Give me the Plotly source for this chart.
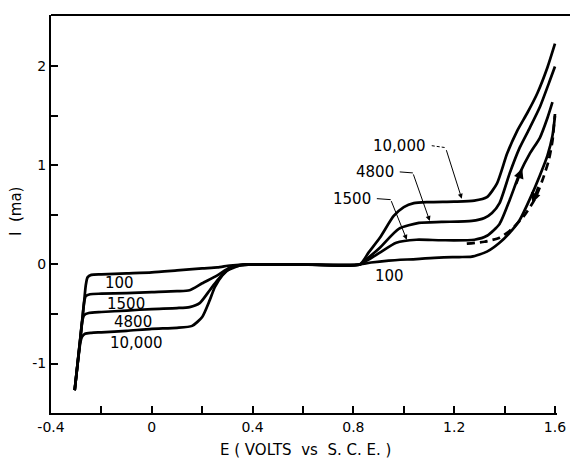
import plotly.graph_objects as go

# ---- data ----
E_100 = [-0.306, -0.269, -0.262, -0.255, -0.24, -0.2, -0.1, 0.0, 0.1, 0.2, 0.26, 0.31, 0.36, 0.43, 0.6,
         0.825, 0.87, 0.94, 1.05, 1.14, 1.22, 1.27, 1.33, 1.38, 1.42, 1.46, 1.50, 1.54, 1.57, 1.59, 1.60]
I_100 = [-1.27, -0.39, -0.21, -0.13, -0.105, -0.10, -0.09, -0.08, -0.06, -0.04, -0.03, -0.01, 0.0, 0.0, 0.0,
         0.0, 0.02, 0.04, 0.055, 0.07, 0.075, 0.08, 0.13, 0.22, 0.32, 0.45, 0.66, 0.90, 1.10, 1.30, 1.50]

E_1500 = [-0.306, -0.276, -0.269, -0.262, -0.245, -0.2, -0.1, 0.0, 0.1, 0.15, 0.2, 0.26, 0.31, 0.36, 0.4, 0.6,
          0.825, 0.86, 0.905, 0.97, 1.05, 1.15, 1.28, 1.33, 1.38, 1.42, 1.46, 1.50, 1.54, 1.57, 1.59]
I_1500 = [-1.27, -0.57, -0.39, -0.32, -0.30, -0.295, -0.29, -0.28, -0.27, -0.26, -0.19, -0.11, -0.03, 0.0, 0.0, 0.0,
          0.0, 0.05, 0.12, 0.22, 0.25, 0.245, 0.25, 0.29, 0.41, 0.65, 0.92, 1.12, 1.28, 1.48, 1.64]

E_4800 = [-0.306, -0.283, -0.276, -0.268, -0.25, -0.2, -0.1, 0.0, 0.1, 0.15, 0.19, 0.23, 0.26, 0.30, 0.35, 0.4, 0.6,
          0.825, 0.86, 0.905, 0.98, 1.06, 1.15, 1.27, 1.32, 1.35, 1.38, 1.42, 1.46, 1.50, 1.54, 1.58, 1.60]
I_4800 = [-1.27, -0.74, -0.57, -0.51, -0.49, -0.48, -0.465, -0.45, -0.44, -0.43, -0.39, -0.26, -0.16, -0.06, -0.01, 0.0, 0.0,
          0.0, 0.07, 0.17, 0.36, 0.42, 0.43, 0.44, 0.47, 0.52, 0.62, 0.92, 1.18, 1.38, 1.59, 1.86, 2.0]

E_10000 = [-0.306, -0.283, -0.277, -0.265, -0.24, -0.2, -0.1, 0.0, 0.1, 0.16, 0.2, 0.23, 0.25, 0.28, 0.31, 0.35, 0.4, 0.6,
           0.825, 0.86, 0.905, 0.96, 1.0, 1.04, 1.1, 1.2, 1.28, 1.33, 1.37, 1.41, 1.45, 1.49, 1.53, 1.57, 1.60]
I_10000 = [-1.27, -0.78, -0.73, -0.70, -0.69, -0.685, -0.67, -0.65, -0.64, -0.62, -0.53, -0.36, -0.23, -0.11, -0.04, -0.01, 0.0, 0.0,
           0.0, 0.12, 0.27, 0.49, 0.58, 0.62, 0.63, 0.635, 0.645, 0.68, 0.82, 1.12, 1.35, 1.53, 1.73, 1.99, 2.23]

E_rev = [1.25, 1.32, 1.38, 1.43, 1.48, 1.52, 1.55, 1.575, 1.59, 1.60]
I_rev = [0.21, 0.23, 0.27, 0.36, 0.50, 0.66, 0.85, 1.05, 1.25, 1.52]

x_tickvals = [-0.4, 0, 0.4, 0.8, 1.2, 1.6]
x_ticktext = ["-0.4", "0", "0.4", "0.8", "1.2", "1.6"]
x_minor = [-0.2, 0.2, 0.6, 1.0, 1.4]
y_tickvals = [-1, 0, 1, 2]
y_ticktext = ["-1", "0", "1", "2"]
y_minor = [-0.5, 0.5, 1.5]

FONT = "DejaVu Sans"
LW = 2.7

fig = go.Figure()
for E, I in [(E_100, I_100), (E_1500, I_1500), (E_4800, I_4800), (E_10000, I_10000)]:
    fig.add_trace(go.Scatter(x=E, y=I, mode="lines",
                             line=dict(color="black", width=LW, shape="spline", smoothing=0.6),
                             showlegend=False, hoverinfo="skip"))
fig.add_trace(go.Scatter(x=E_rev, y=I_rev, mode="lines",
                         line=dict(color="black", width=LW, dash="8px,5px", shape="spline", smoothing=0.6),
                         showlegend=False, hoverinfo="skip"))

anns = []
def lab(text, x, y):
    anns.append(dict(x=x, y=y, xref="x", yref="y", text=text, showarrow=False,
                     xanchor="center", yanchor="middle",
                     font=dict(family=FONT, size=15, color="black")))

lab("100", -0.127, -0.19)
lab("1500", -0.103, -0.395)
lab("4800", -0.075, -0.576)
lab("10,000", -0.06, -0.788)
lab("10,000", 0.984, 1.20)
lab("4800", 0.885, 0.93)
lab("1500", 0.794, 0.657)
lab("100", 0.944, -0.12)

def arrow(x0, y0, x1, y1, w=1, size=1.0, head=2):
    anns.append(dict(x=x1, y=y1, ax=x0, ay=y0, xref="x", yref="y", axref="x", ayref="y",
                     text="", showarrow=True, arrowhead=head, arrowsize=size, arrowwidth=w,
                     arrowcolor="black", standoff=0, startstandoff=0))

# leader arrows for the right-hand labels
arrow(1.167, 1.17, 1.230, 0.665)
arrow(1.036, 0.925, 1.103, 0.44)
arrow(0.948, 0.655, 1.012, 0.25)
# arrows on the sweep curves
arrow(1.445, 0.80, 1.47, 0.97, w=2, size=1.0)
arrow(1.535, 0.80, 1.51, 0.62, w=2, size=1.0)

# page offset: the html body has an 8px margin
OFF = 8
W, H = 578 - OFF, 460 - OFF
L, R, T, B = 51 - OFF, 21, 15 - OFF, 47
PW, PH = W - L - R, H - T - B

def page_to_paper(px, py):
    return (px - OFF - L) / PW, (H - B - (py - OFF)) / PH

# axis titles placed as paper annotations (page pixel positions)
xt = page_to_paper(305, 450)
yt = page_to_paper(16, 212)
anns.append(dict(x=xt[0], y=xt[1], xref="paper", yref="paper", text="E ( VOLTS  vs  S. C. E. )",
                 xanchor="center", yanchor="middle",
                 showarrow=False, font=dict(family=FONT, size=15)))
anns.append(dict(x=yt[0], y=yt[1], xref="paper", yref="paper", text="I  (ma)", textangle=-90,
                 xanchor="center", yanchor="middle",
                 showarrow=False, font=dict(family=FONT, size=15)))

shapes = [
    dict(type="line", xref="paper", yref="paper", x0=0, x1=1.03, y0=1, y1=1,
         line=dict(color="black", width=2)),
    dict(type="line", xref="x", yref="y", x0=1.111, x1=1.167, y0=1.20, y1=1.18,
         line=dict(color="black", width=1, dash="3px,2px")),
    dict(type="line", xref="x", yref="y", x0=0.984, x1=1.036, y0=0.935, y1=0.925,
         line=dict(color="black", width=1)),
    dict(type="line", xref="x", yref="y", x0=0.893, x1=0.948, y0=0.665, y1=0.655,
         line=dict(color="black", width=1)),
]

fig.update_layout(
    width=W, height=H,
    margin=dict(l=L, r=R, t=T, b=B, autoexpand=False),
    paper_bgcolor="white", plot_bgcolor="white",
    font=dict(family=FONT, size=14, color="black"),
    annotations=anns, shapes=shapes,
    xaxis=dict(range=[-0.4, 1.608], showgrid=False, zeroline=False, automargin=False,
               showline=True, linecolor="black", linewidth=2,
               tickmode="array", tickvals=x_tickvals, ticktext=x_ticktext,
               ticks="inside", ticklen=7, tickwidth=1.5, tickcolor="black",
               minor=dict(tickvals=x_minor, ticks="inside", ticklen=7, tickwidth=1.5, tickcolor="black"),
               tickfont=dict(family=FONT, size=14)),
    yaxis=dict(range=[-1.5, 2.52], showgrid=False, zeroline=False, automargin=False,
               showline=True, linecolor="black", linewidth=2,
               tickmode="array", tickvals=y_tickvals, ticktext=y_ticktext,
               ticks="inside", ticklen=7, tickwidth=1.5, tickcolor="black",
               minor=dict(tickvals=y_minor, ticks="inside", ticklen=7, tickwidth=1.5, tickcolor="black"),
               tickfont=dict(family=FONT, size=14)),
)

fig.write_html("out.html")
